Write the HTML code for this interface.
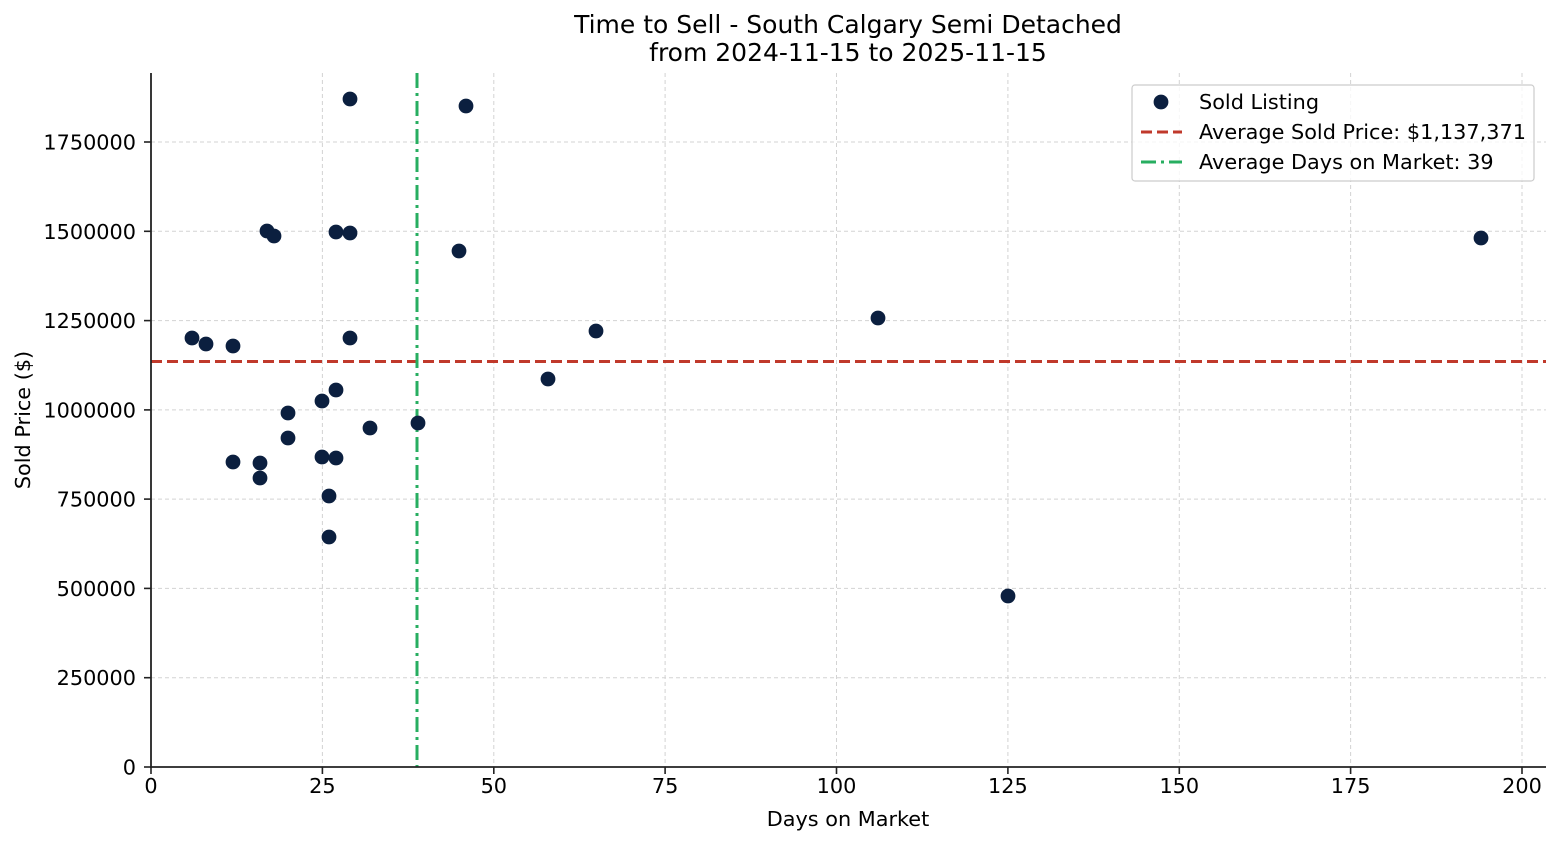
<!DOCTYPE html>
<html><head><meta charset="utf-8"><style>
html,body{margin:0;padding:0;background:#fff;}
svg text{font-family:"DejaVu Sans","Liberation Sans",sans-serif;fill:#000;}
</style></head><body>
<svg width="1560" height="845" viewBox="0 0 1560 845" xmlns="http://www.w3.org/2000/svg">
<rect width="1560" height="845" fill="#fff"/>
<g stroke="#d3d3d3" stroke-width="1" stroke-dasharray="4,3">
<line x1="151" y1="73" x2="151" y2="767"/>
<line x1="322.4" y1="73" x2="322.4" y2="767"/>
<line x1="493.8" y1="73" x2="493.8" y2="767"/>
<line x1="665.1" y1="73" x2="665.1" y2="767"/>
<line x1="836.5" y1="73" x2="836.5" y2="767"/>
<line x1="1007.9" y1="73" x2="1007.9" y2="767"/>
<line x1="1179.3" y1="73" x2="1179.3" y2="767"/>
<line x1="1350.6" y1="73" x2="1350.6" y2="767"/>
<line x1="1522" y1="73" x2="1522" y2="767"/>
<line x1="151" y1="677.7" x2="1546" y2="677.7"/>
<line x1="151" y1="588.4" x2="1546" y2="588.4"/>
<line x1="151" y1="499.1" x2="1546" y2="499.1"/>
<line x1="151" y1="409.9" x2="1546" y2="409.9"/>
<line x1="151" y1="320.6" x2="1546" y2="320.6"/>
<line x1="151" y1="231.3" x2="1546" y2="231.3"/>
<line x1="151" y1="142" x2="1546" y2="142"/>
</g>
<line x1="151" y1="361.5" x2="1546" y2="361.5" stroke="#c0392b" stroke-width="3" stroke-dasharray="11,5"/>
<line x1="417" y1="73" x2="417" y2="767" stroke="#27ae60" stroke-width="3" stroke-dasharray="15,5,3,5"/>
<g fill="#0b1f3f">
<circle cx="192" cy="338" r="7.4"/><circle cx="206" cy="344" r="7.4"/><circle cx="233" cy="346" r="7.4"/>
<circle cx="233" cy="462" r="7.4"/><circle cx="260" cy="463" r="7.4"/><circle cx="260" cy="478" r="7.4"/>
<circle cx="267" cy="231" r="7.4"/><circle cx="274" cy="236" r="7.4"/><circle cx="288" cy="413" r="7.4"/>
<circle cx="288" cy="438" r="7.4"/><circle cx="322" cy="401" r="7.4"/><circle cx="322" cy="457" r="7.4"/>
<circle cx="329" cy="496" r="7.4"/><circle cx="329" cy="537" r="7.4"/><circle cx="336" cy="232" r="7.4"/>
<circle cx="336" cy="390" r="7.4"/><circle cx="336" cy="458" r="7.4"/><circle cx="350" cy="99" r="7.4"/>
<circle cx="350" cy="233" r="7.4"/><circle cx="350" cy="338" r="7.4"/><circle cx="370" cy="428" r="7.4"/>
<circle cx="418" cy="423" r="7.4"/><circle cx="459" cy="251" r="7.4"/><circle cx="466" cy="106" r="7.4"/>
<circle cx="548" cy="379" r="7.4"/><circle cx="596" cy="331" r="7.4"/><circle cx="878" cy="318" r="7.4"/>
<circle cx="1008" cy="596" r="7.4"/><circle cx="1481" cy="238" r="7.4"/>
</g>
<g stroke="#222" stroke-width="1.8">
<line x1="151" y1="73" x2="151" y2="767.9"/>
<line x1="150.1" y1="767" x2="1546" y2="767"/>
</g>
<g stroke="#222" stroke-width="1.6">
<line x1="151" y1="767" x2="151" y2="774"/><line x1="322.4" y1="767" x2="322.4" y2="774"/>
<line x1="493.8" y1="767" x2="493.8" y2="774"/><line x1="665.1" y1="767" x2="665.1" y2="774"/>
<line x1="836.5" y1="767" x2="836.5" y2="774"/><line x1="1007.9" y1="767" x2="1007.9" y2="774"/>
<line x1="1179.3" y1="767" x2="1179.3" y2="774"/><line x1="1350.6" y1="767" x2="1350.6" y2="774"/>
<line x1="1522" y1="767" x2="1522" y2="774"/>
<line x1="144" y1="767" x2="151" y2="767"/><line x1="144" y1="677.7" x2="151" y2="677.7"/>
<line x1="144" y1="588.4" x2="151" y2="588.4"/><line x1="144" y1="499.1" x2="151" y2="499.1"/>
<line x1="144" y1="409.9" x2="151" y2="409.9"/><line x1="144" y1="320.6" x2="151" y2="320.6"/>
<line x1="144" y1="231.3" x2="151" y2="231.3"/><line x1="144" y1="142" x2="151" y2="142"/>
</g>
<g font-size="20.8" text-anchor="middle">
<text x="151" y="793">0</text><text x="322.4" y="793">25</text><text x="493.8" y="793">50</text>
<text x="665.1" y="793">75</text><text x="836.5" y="793">100</text><text x="1007.9" y="793">125</text>
<text x="1179.3" y="793">150</text><text x="1350.6" y="793">175</text><text x="1522" y="793">200</text>
</g>
<g font-size="20.8" text-anchor="end">
<text x="136" y="774.5">0</text><text x="136" y="685">250000</text><text x="136" y="596">500000</text>
<text x="136" y="506.5">750000</text><text x="136" y="417.5">1000000</text><text x="136" y="328">1250000</text>
<text x="136" y="239">1500000</text><text x="136" y="149.5">1750000</text>
</g>
<text x="848" y="826" font-size="20.8" text-anchor="middle">Days on Market</text>
<text transform="translate(30,420) rotate(-90)" font-size="20.8" text-anchor="middle">Sold Price ($)</text>
<text x="848" y="33" font-size="25" text-anchor="middle">Time to Sell - South Calgary Semi Detached</text>
<text x="848" y="61" font-size="25" text-anchor="middle">from 2024-11-15 to 2025-11-15</text>
<rect x="1132" y="85" width="402" height="96" rx="3" fill="#fff" fill-opacity="0.8" stroke="#ccc" stroke-width="1.2"/>
<circle cx="1161" cy="102" r="7.4" fill="#0b1f3f"/>
<line x1="1141" y1="132" x2="1182" y2="132" stroke="#c0392b" stroke-width="3" stroke-dasharray="11,5"/>
<line x1="1141" y1="162" x2="1182" y2="162" stroke="#27ae60" stroke-width="3" stroke-dasharray="15,5,3,5"/>
<g font-size="20.8">
<text x="1199" y="109">Sold Listing</text>
<text x="1199" y="139">Average Sold Price: $1,137,371</text>
<text x="1199" y="169">Average Days on Market: 39</text>
</g>
</svg>
</body></html>
